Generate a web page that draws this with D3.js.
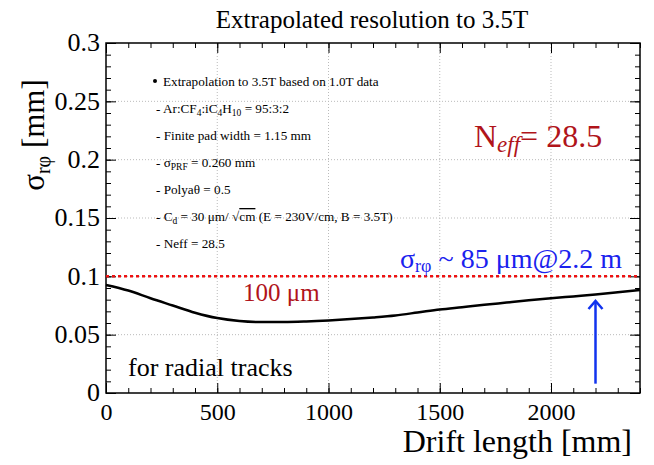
<!DOCTYPE html>
<html>
<head>
<meta charset="utf-8">
<script src="https://cdn.jsdelivr.net/npm/d3@7"></script>
<style>
  body { margin: 0; background: #fff; }
</style>
</head>
<body>
<div id="chart"></div>
<script>
const WIDTH = 654;
const HEIGHT = 465;
const SERIF = "\"Liberation Serif\"";

// data
const drift = [0, 100, 200, 300, 400, 500, 600, 700, 800, 900, 1000, 1100, 1200,
    1300, 1400, 1500, 1600, 1700, 1800, 1900, 2000, 2100, 2200, 2300, 2400];
const sigma = [0.0926, 0.0878, 0.0812, 0.0750, 0.0688, 0.0642, 0.0617, 0.0608, 0.0608,
    0.0613, 0.0622, 0.0634, 0.0648, 0.0665, 0.0690, 0.0716, 0.0736, 0.0756, 0.0775,
    0.0794, 0.0812, 0.0828, 0.0844, 0.0863, 0.0883];
const xTicks = [0, 500, 1000, 1500, 2000];
const yTicks = [0, 0.05, 0.1, 0.15, 0.2, 0.25, 0.3];
const limit = 0.1;
const arrowAt = 2200;

const M = { left: 106, right: 14, top: 43, bottom: 72 };

const svg = d3.select("#chart")
    .append("svg")
    .attr("width", WIDTH)
    .attr("height", HEIGHT);

const x = d3.scaleLinear().domain([0, 2400]).range([M.left, WIDTH - M.right]);
const y = d3.scaleLinear().domain([0, 0.3]).range([HEIGHT - M.bottom, M.top]);

const xMinor = d3.range(0, 2401, 100);
const yMinor = d3.range(0, 0.3001, 0.01);

// small helper: every text gets the serif font directly
function txt(parent, xx, yy, size) {
    return parent.append("text")
        .attr("x", xx).attr("y", yy)
        .style("font-family", SERIF)
        .style("font-size", size + "px");
}

// === GRID ===
const grid = svg.append("g")
    .attr("stroke", "#bbb")
    .attr("stroke-width", 1)
    .attr("stroke-dasharray", "1,2");
grid.selectAll(".gx")
    .data(xTicks.slice(1))
    .enter().append("line")
    .attr("x1", d => x(d)).attr("x2", d => x(d))
    .attr("y1", y(0)).attr("y2", y(0.3));
grid.selectAll(".gy")
    .data(yTicks.slice(1, -1))
    .enter().append("line")
    .attr("x1", x(0)).attr("x2", x(2400))
    .attr("y1", d => y(d)).attr("y2", d => y(d));

// === AXES (ticks inside, ROOT style) ===
function axis(gen, vals, size, pos, labels, fs) {
    const g = svg.append("g")
        .attr("transform", pos)
        .call(gen.tickValues(vals).tickSize(size).tickSizeOuter(0).tickPadding(size < 0 ? 14 : 4));
    g.select(".domain").remove();
    g.selectAll("line").attr("stroke", "#000").attr("stroke-width", 1);
    if (!labels) g.selectAll("text").remove();
    else g.selectAll("text")
        .attr("fill", "#000")
        .style("font-family", SERIF)
        .style("font-size", fs + "px");
    return g;
}

const bx = axis(d3.axisBottom(x).tickFormat(d3.format("d")), xTicks, -10, `translate(0,${y(0)})`, true, 24);
bx.selectAll("text").attr("dy", "1.14em").attr("y", 0);
axis(d3.axisBottom(x), xMinor, -5, `translate(0,${y(0)})`, false);
axis(d3.axisTop(x), xTicks, -10, `translate(0,${y(0.3)})`, false);
axis(d3.axisTop(x), xMinor, -5, `translate(0,${y(0.3)})`, false);

const ly = axis(d3.axisLeft(y).tickFormat(d => d3.format("")(+d.toFixed(2))), yTicks, -10, `translate(${x(0)},0)`, true, 26);
ly.selectAll("text").attr("x", -6).attr("dy", "0.3em");
axis(d3.axisLeft(y), yMinor, -5, `translate(${x(0)},0)`, false);
axis(d3.axisRight(y), yTicks, -10, `translate(${x(2400)},0)`, false);
axis(d3.axisRight(y), yMinor, -5, `translate(${x(2400)},0)`, false);

// frame
svg.append("rect")
    .attr("x", x(0)).attr("y", y(0.3))
    .attr("width", x(2400) - x(0)).attr("height", y(0) - y(0.3))
    .attr("fill", "none").attr("stroke", "#000").attr("stroke-width", 1.5);

// === 100 um LINE ===
svg.append("line")
    .attr("x1", x(0)).attr("x2", x(2400))
    .attr("y1", y(limit)).attr("y2", y(limit))
    .attr("stroke", "#ee1111")
    .attr("stroke-width", 2.5)
    .attr("stroke-dasharray", "3,3");

// === CURVE ===
const pts = drift.map((d, i) => [d, sigma[i]]);
svg.append("path")
    .datum(pts)
    .attr("d", d3.line().x(d => x(d[0])).y(d => y(d[1])).curve(d3.curveMonotoneX))
    .attr("fill", "none")
    .attr("stroke", "#000")
    .attr("stroke-width", 2.5);

// === ARROW ===
svg.append("line")
    .attr("x1", x(arrowAt)).attr("x2", x(arrowAt))
    .attr("y1", y(0.008)).attr("y2", y(0.078))
    .attr("stroke", "#1133ee")
    .attr("stroke-width", 2.5);
svg.append("path")
    .attr("d", `M${x(arrowAt) - 7},${y(0.072)} L${x(arrowAt)},${y(0.079)} L${x(arrowAt) + 7},${y(0.072)}`)
    .attr("fill", "none")
    .attr("stroke", "#1133ee")
    .attr("stroke-width", 2.5);

// === TEXTS ===
txt(svg, 372, 28, 25)
    .attr("text-anchor", "middle")
    .text("Extrapolated resolution to 3.5T");

const yl = txt(svg, 0, 0, 31)
    .attr("transform", "translate(44,135) rotate(-90)")
    .attr("text-anchor", "middle");
yl.append("tspan").text("σ");
yl.append("tspan").attr("dy", 6).style("font-size", "20px").text("rφ");
yl.append("tspan").attr("dy", -6).text("  [mm]");

txt(svg, 632, 452, 32)
    .attr("text-anchor", "end")
    .text("Drift length  [mm]");

txt(svg, 128, 376, 26)
    .text("for radial tracks");

// info box
const info = svg.append("g");
function line(yy, parts, x0) {
    const t = txt(info, x0 || 156, yy, 13.2);
    parts.forEach(p => {
        const s = t.append("tspan").text(p[0]);
        if (p[1] === "sub") s.attr("dy", 3).style("font-size", "9.5px");
        if (p[1] === "up") s.attr("dy", -3);
        if (p[1] === "ov") s.attr("text-decoration", "overline");
    });
}
info.append("circle").attr("cx", 155).attr("cy", 81).attr("r", 2).attr("fill", "#000");
line(86, [["Extrapolation to 3.5T based on 1.0T data"]], 163);
line(113, [["- Ar:CF"], ["4", "sub"], [":iC", "up"], ["4", "sub"], ["H", "up"], ["10", "sub"], [" = 95:3:2", "up"]]);
line(140, [["- Finite pad width = 1.15 mm"]]);
line(167, [["- σ"], ["PRF", "sub"], [" = 0.260 mm", "up"]]);
line(194, [["- Polyaθ = 0.5"]]);
line(221, [["- C"], ["d", "sub"], [" = 30 μm/ √", "up"], ["cm", "ov"], [" (E = 230V/cm, B = 3.5T)"]]);
line(248, [["- Neff = 28.5"]]);

const ne = txt(svg, 474, 147, 32)
    .attr("fill", "#b0141a");
ne.append("tspan").text("N");
ne.append("tspan").attr("dy", 5).style("font-size", "23px").style("font-style", "italic").text("eff");
ne.append("tspan").attr("dy", -5).text("= 28.5");

txt(svg, 243, 301, 25)
    .attr("fill", "#b0141a")
    .text("100 μm");

const bl = txt(svg, 400, 268, 28)
    .attr("fill", "#1a22ee");
bl.append("tspan").text("σ");
bl.append("tspan").attr("dy", 4).style("font-size", "18px").text("rφ");
bl.append("tspan").attr("dy", -4).text(" ~ 85 μm@2.2 m");
</script>
</body>
</html>
